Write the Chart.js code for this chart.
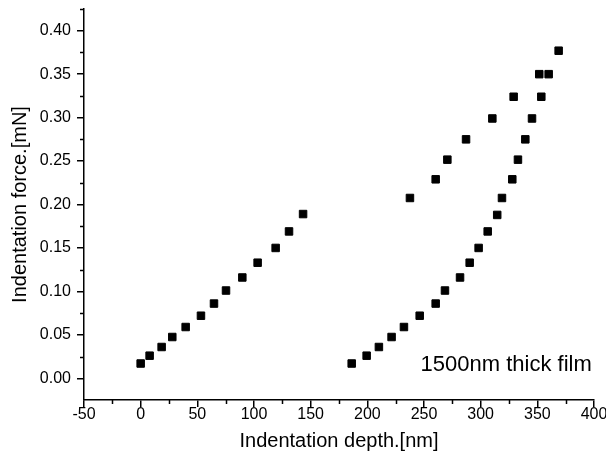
<!DOCTYPE html>
<html>
<head>
<meta charset="utf-8">
<script src="https://cdn.jsdelivr.net/npm/chart.js@4/dist/chart.umd.min.js"></script>
<style>
  html, body { margin: 0; padding: 0; background: #fff; }
  canvas { display: block; }
</style>
</head>
<body>
<canvas id="chart" width="606" height="461"></canvas>
<script>
// loading branch of the thin part
const loadDepth = [0, 7.9, 18.5, 27.9, 39.7, 53.2, 64.7, 75.3, 89.7, 103.2, 119.1, 130.9, 143.3]
const loadForce = [0.017, 0.026, 0.036, 0.0475, 0.059, 0.072, 0.086, 0.101, 0.116, 0.133, 0.150, 0.169, 0.189]

// right lower branch
const lowerDepth = [186.2, 199.4, 210.2, 221.4, 232.3, 246.2, 260.3, 268.5, 281.8, 290.3, 298.2, 306.2,
  314.6, 318.8, 327.9, 332.9, 339.4, 345.3, 353.5, 360.0, 368.8]
const lowerForce = [0.017, 0.026, 0.036, 0.0475, 0.059, 0.072, 0.086, 0.101, 0.116, 0.133, 0.150, 0.169,
  0.188, 0.2075, 0.229, 0.2516, 0.275, 0.299, 0.324, 0.350, 0.377]

// right upper branch
const upperDepth = [237.6, 260.3, 270.6, 287.1, 310.3, 329.1, 351.7]
const upperForce = [0.2075, 0.229, 0.2516, 0.275, 0.299, 0.324, 0.350]

const xTicks = [-50, 0, 50, 100, 150, 200, 250, 300, 350, 400]
const yTicks = [0, 0.05, 0.10, 0.15, 0.20, 0.25, 0.30, 0.35, 0.40]
const xMinor = [-25, 25, 75, 125, 175, 225, 275, 325, 375]
const yMinor = [0.025, 0.075, 0.125, 0.175, 0.225, 0.275, 0.325, 0.375, 0.425]

const noteText = "1500nm thick film"
const FONT = "'Liberation Sans', Arial, sans-serif"

function toPoints(xs, ys) {
  return xs.map((x, i) => ({ x: x, y: ys[i] }))
}

function makeSet(xs, ys) {
  return {
    data: toPoints(xs, ys),
    showLine: false,
    pointStyle: "rect",
    pointRadius: 5.3,
    borderWidth: 1,
    backgroundColor: "#000",
    borderColor: "#000"
  }
}

// short minor ticks + the text label
const extras = {
  id: "extras",
  afterDraw(chart) {
    const ctx = chart.ctx
    const xs = chart.scales.x, ys = chart.scales.y
    const area = chart.chartArea
    ctx.save()
    ctx.strokeStyle = "#000"
    ctx.lineWidth = 1.5
    ctx.beginPath()
    xMinor.forEach(v => {
      const px = Math.round(xs.getPixelForValue(v)) + 0.5
      ctx.moveTo(px, area.bottom)
      ctx.lineTo(px, area.bottom + 4)
    })
    yMinor.forEach(v => {
      const py = Math.round(ys.getPixelForValue(v)) + 0.5
      ctx.moveTo(area.left, py)
      ctx.lineTo(area.left - 4, py)
    })
    ctx.stroke()

    ctx.fillStyle = "#000"
    ctx.font = "22px " + FONT
    ctx.textAlign = "left"
    ctx.textBaseline = "alphabetic"
    ctx.fillText(noteText, xs.getPixelForValue(247), ys.getPixelForValue(0.008))
    ctx.restore()
  }
}

new Chart(document.getElementById("chart"), {
  type: "scatter",
  data: {
    datasets: [
      makeSet(loadDepth, loadForce),
      makeSet(lowerDepth, lowerForce),
      makeSet(upperDepth, upperForce)
    ]
  },
  options: {
    responsive: false,
    animation: false,
    layout: { padding: { top: 9, right: 12, left: 0, bottom: 0 } },
    plugins: { legend: { display: false }, tooltip: { enabled: false } },
    scales: {
      x: {
        type: "linear",
        min: -50,
        max: 400,
        afterBuildTicks: s => { s.ticks = xTicks.map(v => ({ value: v })) },
        afterFit: s => { s.height = 61; s.paddingLeft = 0; s.paddingRight = 0 },
        border: { display: true, color: "#000", width: 1.5 },
        grid: { drawOnChartArea: false, drawTicks: true, tickLength: 7, color: "#000", lineWidth: 1.5 },
        ticks: {
          color: "#000",
          font: { family: FONT, size: 16 },
          padding: -2,
          maxRotation: 0,
          callback: v => String(v)
        },
        title: {
          display: true,
          text: "Indentation depth.[nm]",
          color: "#000",
          font: { family: FONT, size: 20 },
          padding: { top: 0, bottom: 8 }
        }
      },
      y: {
        type: "linear",
        min: -0.025,
        max: 0.425,
        afterBuildTicks: s => { s.ticks = yTicks.map(v => ({ value: v })) },
        afterFit: s => { s.width = 84; s.paddingTop = 0; s.paddingBottom = 0 },
        border: { display: true, color: "#000", width: 1.5 },
        grid: { drawOnChartArea: false, drawTicks: true, tickLength: 7, color: "#000", lineWidth: 1.5 },
        ticks: {
          color: "#000",
          font: { family: FONT, size: 16 },
          padding: 6,
          callback: v => Number(v).toFixed(2)
        },
        title: {
          display: true,
          text: "Indentation force.[mN]",
          color: "#000",
          font: { family: FONT, size: 20 },
          padding: { top: 8, bottom: 0 }
        }
      }
    }
  },
  plugins: [extras]
})
</script>
</body>
</html>
